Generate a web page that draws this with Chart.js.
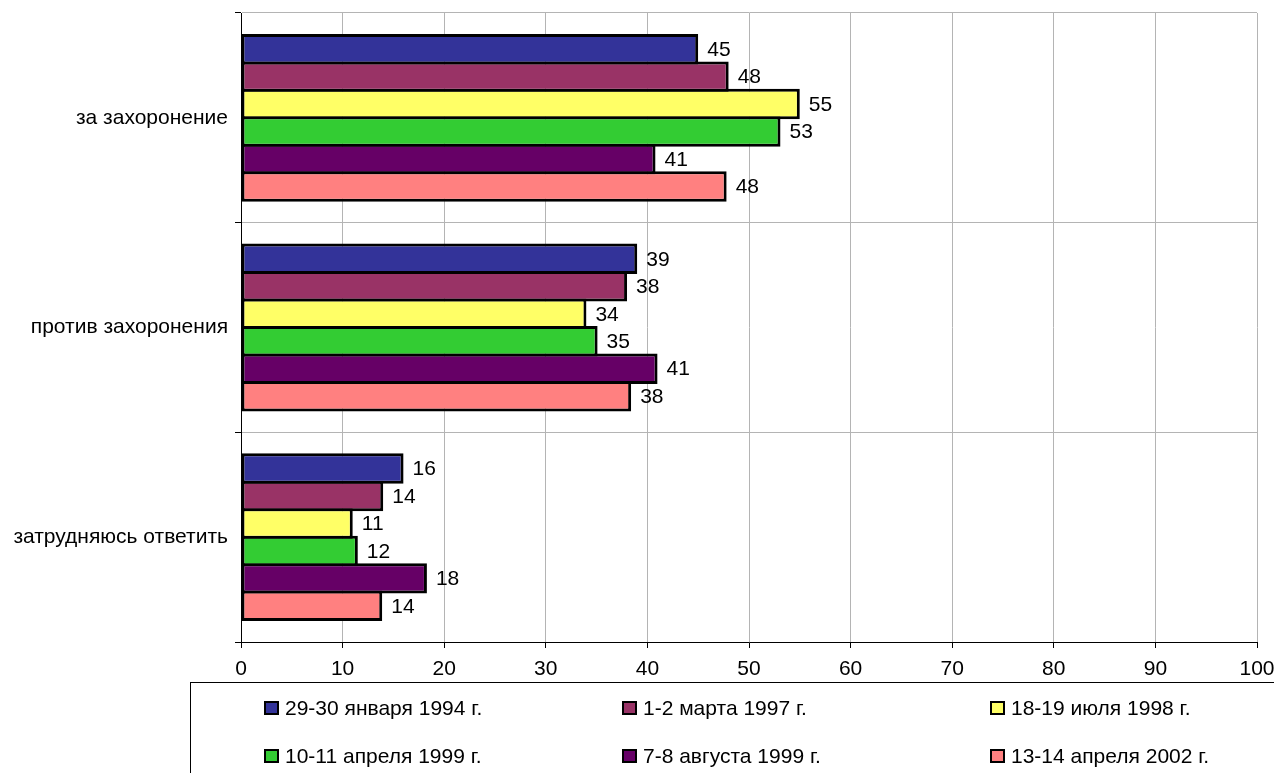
<!DOCTYPE html>
<html>
<head>
<meta charset="utf-8">
<script src="https://cdn.jsdelivr.net/npm/chart.js@4/dist/chart.umd.min.js"></script>
<style>
  html, body { margin: 0; padding: 0; background: #fff; }
  #wrap { position: relative; width: 1274px; height: 773px; overflow: hidden; }
  #legend {
    position: absolute; left: 190px; top: 682px; width: 1200px; height: 200px;
    border: 1px solid #000; box-sizing: border-box;
    font-family: Arial, "Liberation Sans", sans-serif; font-size: 21px; color: #000;
  }
  .item { position: absolute; display: flex; align-items: center; white-space: nowrap; height: 24px; }
  .box { width: 15px; height: 14px; border: 2px solid #000; box-sizing: border-box; margin-right: 6px; }
</style>
</head>
<body>
<div id="wrap">
  <canvas id="chart" width="1274" height="773"></canvas>
  <div id="legend"></div>
</div>
<script>
const categories = ['за захоронение', 'против захоронения', 'затрудняюсь ответить'];
const seriesNames = [
  '29-30 января 1994 г.',
  '1-2 марта 1997 г.',
  '18-19 июля 1998 г.',
  '10-11 апреля 1999 г.',
  '7-8 августа 1999 г.',
  '13-14 апреля 2002 г.',
];
const seriesColors = ['#333399', '#993366', '#FFFF66', '#33CC33', '#660066', '#FF8080'];
const jan1994 = [45, 39, 16];
const mar1997 = [48, 38, 14];
const jul1998 = [55, 34, 11];
const apr1999 = [53.1, 35.1, 11.5];
const aug1999 = [40.8, 41, 18.3];
const apr2002 = [47.8, 38.4, 13.9];
const seriesValues = [jan1994, mar1997, jul1998, apr1999, aug1999, apr2002];
const xTicks = [0, 10, 20, 30, 40, 50, 60, 70, 80, 90, 100];

const FONT = 'Arial, "Liberation Sans", sans-serif';
const FONT_SIZE = 21;

const valueLabels = {
  id: 'valueLabels',
  afterDatasetsDraw(chart) {
    const ctx = chart.ctx;
    ctx.save();
    ctx.font = FONT_SIZE + 'px ' + FONT;
    ctx.fillStyle = '#000';
    ctx.textAlign = 'left';
    ctx.textBaseline = 'middle';
    chart.data.datasets.forEach((ds, i) => {
      chart.getDatasetMeta(i).data.forEach((bar, j) => {
        ctx.fillText(String(Math.round(ds.data[j])), bar.x + 9, bar.y + 1);
      });
    });
    ctx.restore();
  },
};

const chart = new Chart(document.getElementById('chart'), {
  type: 'bar',
  data: {
    labels: categories,
    datasets: seriesNames.map((name, i) => ({
      label: name,
      data: seriesValues[i],
      backgroundColor: seriesColors[i],
      borderColor: '#000',
      borderWidth: 3,
      borderSkipped: false,
      categoryPercentage: 0.786,
      barPercentage: 1.109,
    })),
  },
  options: {
    indexAxis: 'y',
    responsive: false,
    animation: false,
    layout: { padding: { left: 0, right: 17, top: 13, bottom: 91 } },
    plugins: {
      legend: { display: false },
      tooltip: { enabled: false },
    },
    scales: {
      x: {
        min: 0,
        max: 100,
        afterBuildTicks: scale => {
          scale.ticks = xTicks.map(v => ({ value: v }));
        },
        afterFit: scale => {
          scale.height = 40;
          scale.paddingLeft = 0;
          scale.paddingRight = 0;
        },
        border: { color: '#000', width: 1 },
        grid: { color: '#b4b4b4', tickColor: '#000', tickLength: 6 },
        ticks: { color: '#000', font: { family: FONT, size: FONT_SIZE }, padding: 9, maxRotation: 0 },
      },
      y: {
        afterFit: scale => {
          scale.width = 241;
          scale.paddingTop = 0;
          scale.paddingBottom = 0;
        },
        border: { color: '#000', width: 1 },
        grid: { color: '#b4b4b4', tickColor: '#000', tickLength: 6 },
        ticks: { color: '#000', font: { family: FONT, size: FONT_SIZE }, padding: 7 },
      },
    },
  },
  plugins: [valueLabels],
});

// legend built from the chart's datasets
const legendEl = document.getElementById('legend');
const colX = [73, 431, 799];
const rowY = [25, 73];
chart.data.datasets.forEach((ds, i) => {
  const item = document.createElement('div');
  item.className = 'item';
  item.style.left = colX[i % 3] + 'px';
  item.style.top = (rowY[Math.floor(i / 3)] - 12) + 'px';
  item.innerHTML = `<span class="box" style="background:${ds.backgroundColor}"></span><span>${ds.label}</span>`;
  legendEl.appendChild(item);
});
</script>
</body>
</html>
